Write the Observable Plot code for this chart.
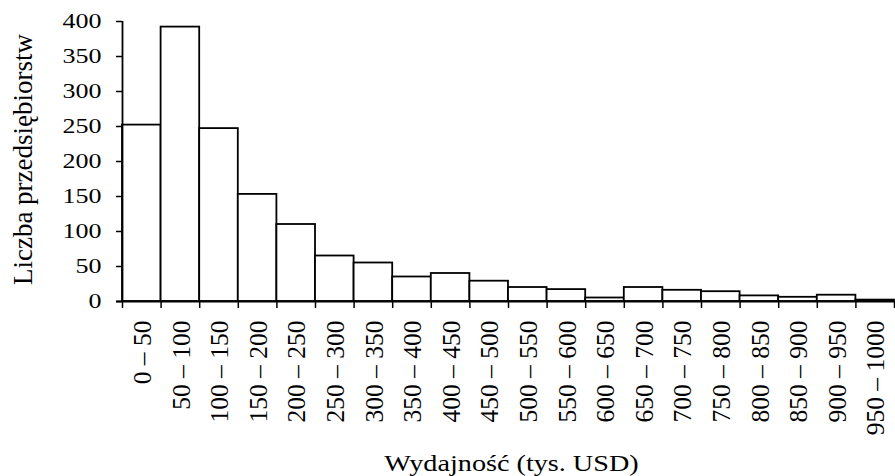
<!DOCTYPE html>
<html>
<head>
<meta charset="utf-8">
<script src="https://cdn.jsdelivr.net/npm/d3@7"></script>
<script src="https://cdn.jsdelivr.net/npm/@observablehq/plot@0.6"></script>
<style>
  html, body { margin: 0; padding: 0; background: white; }
</style>
</head>
<body>
<div id="chart"></div>
<script>
const categories = ["0 – 50", "50 – 100", "100 – 150", "150 – 200", "200 – 250", "250 – 300", "300 – 350", "350 – 400", "400 – 450", "450 – 500", "500 – 550", "550 – 600", "600 – 650", "650 – 700", "700 – 750", "750 – 800", "800 – 850", "850 – 900", "900 – 950", "950 – 1000"];
const binStart = [0, 50, 100, 150, 200, 250, 300, 350, 400, 450, 500, 550, 600, 650, 700, 750, 800, 850, 900, 950];
const binEnd = [50, 100, 150, 200, 250, 300, 350, 400, 450, 500, 550, 600, 650, 700, 750, 800, 850, 900, 950, 1000];
const counts = [252, 392, 247, 153, 110, 65, 55, 35, 40, 29, 20, 17, 5, 20, 16, 14, 8, 6, 9, 2];
const yTicks = [0, 50, 100, 150, 200, 250, 300, 350, 400];
const xTitle = "Wydajność (tys. USD)";
const yTitle = "Liczba przedsiębiorstw";

const bins = categories.map((label, i) => ({label, start: binStart[i], end: binEnd[i], count: counts[i]}));
const edges = [...binStart, binEnd[binEnd.length - 1]];

const font = "'Liberation Serif', 'Times New Roman', serif";

const chart = Plot.plot({
  width: 895,
  height: 476,
  marginTop: 21,
  marginBottom: 175,
  marginLeft: 122,
  marginRight: 1,
  style: {fontFamily: font, fontSize: "20px", color: "black", background: "white"},
  x: {domain: [0, 1000]},
  y: {domain: [0, 400]},
  marks: [
    Plot.rectY(bins, {x1: "start", x2: "end", y: "count", fill: "white", stroke: "black", strokeWidth: 1.8}),
    Plot.ruleX([0], {stroke: "black", strokeWidth: 1.8}),
    Plot.ruleY([0], {stroke: "black", strokeWidth: 2, insetLeft: -6}),
    Plot.axisY({ticks: yTicks, tickSize: 6, tickFormat: () => "", label: null, strokeWidth: 1.5}),
    Plot.text(yTicks, {x: () => 0, y: d => d, text: d => String(d), textAnchor: "end", dx: -21, fontSize: 20, fill: "black"}),
    Plot.axisX({ticks: edges, tickSize: 7, tickFormat: () => "", label: null, strokeWidth: 1.5}),
    Plot.text(bins, {x: d => (d.start + d.end) / 2, y: () => 0, text: "label", rotate: -90, textAnchor: "end", lineAnchor: "middle", dx: 1, dy: 19, fontSize: 25.5, fill: "black"}),
    Plot.text([xTitle], {frameAnchor: "bottom", text: d => d, dx: 3, dy: 162, lineAnchor: "middle", textAnchor: "middle", fontSize: 24, fill: "black"}),
    Plot.text([yTitle], {frameAnchor: "left", text: d => d, rotate: -90, dx: -99, dy: -2, textAnchor: "middle", lineAnchor: "middle", fontSize: 27, fill: "black"})
  ]
});

function stretchText(svg, match, sx) {
  svg.querySelectorAll("text").forEach(t => {
    if (!match(t.textContent)) return;
    const tr = t.getAttribute("transform");
    if (tr) {
      t.setAttribute("transform", tr + ` scale(${sx},1)`);
    } else {
      const x = +t.getAttribute("x") || 0, y = +t.getAttribute("y") || 0;
      t.setAttribute("transform", `translate(${x},${y}) scale(${sx},1) translate(${-x},${-y})`);
    }
  });
}
const yTickStrings = new Set(yTicks.map(String));
stretchText(chart, s => yTickStrings.has(s), 1.3);
stretchText(chart, s => s === xTitle, 1.175);

document.getElementById("chart").appendChild(chart);
</script>
</body>
</html>
